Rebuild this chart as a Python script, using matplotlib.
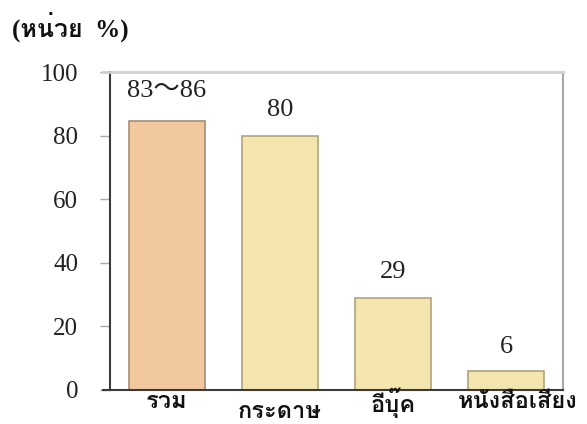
import matplotlib
matplotlib.use("Agg")
import matplotlib.pyplot as plt

# ข้อมูล (หน่วย %)
categories = ["รวม", "กระดาษ", "อีบุ๊ค", "หนังสือเสียง"]
values = [84.5, 80, 29, 6]
value_labels = ["83～86", "80", "29", "6"]
bar_colors = ["#F2C89E", "#F4E5AE", "#F4E5AE", "#F4E5AE"]
edge_colors = ["#A88C72", "#B2A37A", "#B2A37A", "#B2A37A"]
yticks = [0, 20, 40, 60, 80, 100]

num_font = ["Liberation Serif", "Loma", "Noto Sans CJK JP", "DejaVu Sans"]
thai_font = ["Loma", "Noto Sans Thai Looped", "DejaVu Sans"]

fig = plt.figure(figsize=(5.87, 4.24), dpi=100)
ax = fig.add_axes([0.1874, 0.0802, 0.959 - 0.1874, 0.830 - 0.0802])

x = list(range(len(categories)))
ax.bar(x, values, width=0.67, color=bar_colors, edgecolor=edge_colors, linewidth=1.2, zorder=2)

# ตัวเลขบนแท่ง
label_gap = [9.5, 8, 8, 7.5]
for xi, v, lab, g in zip(x, values, value_labels, label_gap):
    ax.text(xi, v + g, lab, ha="center", va="center", fontsize=19, family=num_font, color="#222222")

ax.set_xlim(-0.5, 3.5)
ax.set_ylim(0, 100)
ax.set_yticks(yticks)
ax.set_yticklabels([str(t) for t in yticks], family=num_font, fontsize=18, color="#222222")
ax.tick_params(axis="y", direction="out", length=7, width=1, color="#AAAAAA", pad=16)
ax.set_xticks([])

# ป้ายแกน x (กระดาษ อยู่ต่ำกว่าเล็กน้อย)
label_offsets = [-0.037, -0.068, -0.04, -0.035]
label_shift = [0, 0, 0, 0.1]
for xi, lab, off, sh in zip(x, categories, label_offsets, label_shift):
    ax.text(xi + sh, off, lab, transform=ax.get_xaxis_transform(), ha="center", va="center",
            fontsize=17, fontweight="bold", family=thai_font, color="#111111")

for side in ["left", "bottom"]:
    ax.spines[side].set_color("#3A3A3A")
    ax.spines[side].set_linewidth(1.5)
ax.spines["top"].set_color("#D0D0D0")
ax.spines["top"].set_linewidth(2)
ax.spines["right"].set_color("#A8A8A8")
ax.spines["right"].set_linewidth(1.5)
# เส้นบนและล่างยื่นออกไปทางซ้ายเล็กน้อย
ax.axhline(100, xmin=-0.016, xmax=0, color="#D0D0D0", linewidth=2, clip_on=False)
ax.axhline(0, xmin=-0.016, xmax=0, color="#3A3A3A", linewidth=1.5, clip_on=False)

fig.text(0.02, 0.937, "(หน่วย  %)", fontsize=18, fontweight="bold", family=num_font,
         ha="left", va="center", color="#111111")

fig.savefig("out.png", dpi=100)
